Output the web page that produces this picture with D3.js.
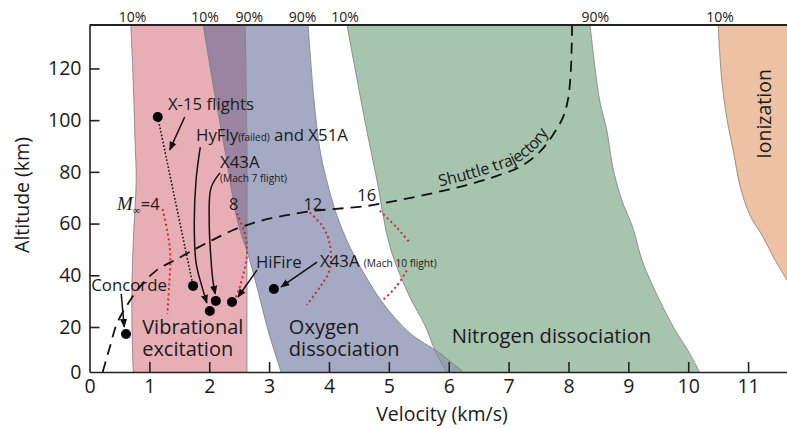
<!DOCTYPE html>
<html>
<head>
<meta charset="utf-8">
<script src="https://cdn.jsdelivr.net/npm/d3@7"></script>
<style>
body { margin: 0; background: #fff; }
text { font-family: "Open Sans", sans-serif; fill: #1a1a1a; }
</style>
</head>
<body>
<div class="chart"></div>
<script>
// band edges as [velocity km/s, altitude km]
const vibLeft  = [[0.69,136.8],[0.73,115.6],[0.76,92.3],[0.78,76.9],[0.74,57.5],[0.71,38.2],[0.71,18.7],[0.73,0]]
const vibRight = [[2.60,136.8],[2.63,88.5],[2.63,49.8],[2.63,0]]
const oxLeft   = [[1.90,136.8],[2.05,115.6],[2.26,88.5],[2.48,60.2],[2.65,47.9],[2.81,34.3],[2.98,18.7],[3.20,0]]
const oxRight  = [[3.65,136.8],[3.75,107.8],[3.85,88.5],[3.96,76.9],[4.13,63.3],[4.35,50.9],[4.60,40.1],[4.90,29.3],[5.35,17.3],[5.85,8.4],[6.24,0]]
const niLeft   = [[4.30,136.8],[4.47,115.6],[4.63,96.2],[4.80,76.9],[5.02,50.9],[5.35,31.6],[5.60,20.8],[5.79,8.4],[5.97,0]]
const niRight  = [[8.36,136.8],[8.52,107.8],[8.64,96.2],[8.74,81.9],[8.89,69.1],[9.07,58.7],[9.24,45.1],[9.52,30.4],[9.78,18.7],[9.99,9.8],[10.19,0]]
const ionLeft  = [[10.50,136.8],[10.56,115.6],[10.65,100.1],[10.75,88.5],[10.87,74.2],[11.03,63.3],[11.25,54.8],[11.45,45.9],[11.65,38.2],[11.87,30.4]]
const ionRight = [[12.5,136.8],[12.5,30.4]]

const shuttle = [[0.22,0],[0.34,11.1],[0.46,21.5],[0.63,28.5],[0.84,35.5],[1.13,42.1],[1.46,46.3],[1.80,50.6],[2.06,53.7],[2.40,57.5],[2.73,60.2],[3.06,62.2],[3.40,63.7],[3.73,64.9],[4.07,65.6],[4.63,66.8],[5.18,69.1],[5.74,71.8],[6.30,74.9],[6.85,78.8],[7.19,81.9],[7.52,87.7],[7.74,94.3],[7.91,101.2],[7.99,107.8],[8.04,119.4],[8.06,136.8]]

// constant free-stream Mach number lines (M=16 is broken where the label sits)
const machLines = [
  [[1.22,65.6],[1.30,57.0],[1.35,48.0],[1.33,36.0],[1.30,25.0]],
  [[2.46,63.9],[2.59,56.5],[2.63,48.3],[2.51,35.6],[2.38,28.0]],
  [[3.68,64.3],[3.88,59.3],[4.01,52.6],[4.01,42.1],[3.85,35.5],[3.63,28.5]],
  [[4.85,65.0],[5.13,58.5],[5.35,52.6]],
  [[5.30,41.8],[5.12,35.5],[4.90,30.4]]
]
const machLabels = [["8",2.41,65.3],["12",3.73,65.3],["16",4.63,68.7]]

const flights = [[1.14,101.2],[1.73,35.9],[2.01,26.2],[2.11,30.1],[2.38,29.7],[3.08,34.7],[0.61,16.9]]
const x15Path = [[1.14,101.2],[1.73,35.9]]

const arrows = [
  [[1.59,101.2],[1.34,88.5]],
  [[1.85,89.6],[1.78,76.9],[1.75,60.2],[1.78,44.8],[1.88,35.5],[1.96,29.3]],
  [[2.18,79.6],[2.03,73.8],[2.00,60.2],[2.03,45.9],[2.06,38.2],[2.10,32.8]],
  [[2.80,42.1],[2.48,31.6]],
  [[3.80,45.1],[3.20,35.5]],
  [[0.53,32.8],[0.58,20.0]]
]

const topLabels = ["10%","10%","90%","90%","10%","90%","10%"]
const topLabelV = [0.72,1.93,2.67,3.56,4.27,8.45,10.53]
const xTicks = [0,1,2,3,4,5,6,7,8,9,10,11]
const yTicks = [0,20,40,60,80,100,120]

const width = 787, height = 429

const x = d3.scaleLinear().domain([0, 11.65]).range([89.5, 787])
const y = d3.scaleLinear().domain([0, 20, 136.8]).range([372, 327, 25])

const svg = d3.select(".chart").append("svg")
  .attr("width", width).attr("height", height)

const defs = svg.append("defs")
defs.append("clipPath").attr("id", "plot")
  .append("rect")
  .attr("x", x(0)).attr("y", y(136.8))
  .attr("width", x(11.65) - x(0)).attr("height", y(0) - y(136.8))

const edge = d3.line().x(d => x(d[0])).y(d => y(d[1])).curve(d3.curveCatmullRom)

function band(left, right) {
  const r = edge(right.slice().reverse())
  return edge(left) + "L" + r.slice(1) + "Z"
}

defs.append("clipPath").attr("id", "vibClip").append("path").attr("d", band(vibLeft, vibRight))
defs.append("clipPath").attr("id", "oxClip").append("path").attr("d", band(oxLeft, oxRight))

const g = svg.append("g").attr("clip-path", "url(#plot)")

g.append("path").attr("d", band(vibLeft, vibRight)).attr("fill", "#e8aeb6")
g.append("path").attr("d", band(oxLeft, oxRight)).attr("fill", "#a4a9c4")
g.append("g").attr("clip-path", "url(#vibClip)")
  .append("path").attr("d", band(oxLeft, oxRight)).attr("fill", "#9b84a0")
g.append("path").attr("d", band(niLeft, niRight)).attr("fill", "#a7c4ae")
g.append("g").attr("clip-path", "url(#oxClip)")
  .append("path").attr("d", band(niLeft, niRight)).attr("fill", "#8fa4ab")
g.append("path").attr("d", band(ionLeft, ionRight)).attr("fill", "#ecc1a4")

// band outlines
g.selectAll(".edge")
  .data([vibLeft, vibRight, oxLeft, oxRight, niLeft, niRight, ionLeft])
  .join("path")
  .attr("class", "edge")
  .attr("d", edge)
  .attr("fill", "none")
  .attr("stroke", "#7d7d7d")
  .attr("stroke-width", 0.8)

// Mach number lines
g.selectAll(".mach")
  .data(machLines)
  .join("path")
  .attr("class", "mach")
  .attr("d", edge)
  .attr("fill", "none")
  .attr("stroke", "#d0282c")
  .attr("stroke-width", 2)
  .attr("stroke-dasharray", "2,3")

// shuttle trajectory
g.append("path")
  .attr("d", edge(shuttle))
  .attr("fill", "none")
  .attr("stroke", "#111")
  .attr("stroke-width", 1.8)
  .attr("stroke-dasharray", "11,7")

defs.append("path").attr("id", "shuttleText").attr("d", edge(shuttle.slice(17)))

svg.append("text")
  .attr("font-size", 16)
  .attr("dy", -5)
  .append("textPath")
  .attr("href", "#shuttleText")
  .attr("startOffset", 8)
  .text("Shuttle trajectory")

// X-15 dotted path
g.append("path")
  .attr("d", d3.line().x(d => x(d[0])).y(d => y(d[1]))(x15Path))
  .attr("fill", "none")
  .attr("stroke", "#111")
  .attr("stroke-width", 1.6)
  .attr("stroke-dasharray", "1.6,2")

// arrows
defs.append("marker").attr("id", "arr")
  .attr("viewBox", "0 0 10 10")
  .attr("refX", 9).attr("refY", 5)
  .attr("markerWidth", 9).attr("markerHeight", 9)
  .attr("markerUnits", "userSpaceOnUse")
  .attr("orient", "auto")
  .append("path").attr("d", "M0,1L10,5L0,9Z").attr("fill", "#111")

g.selectAll(".arrow")
  .data(arrows)
  .join("path")
  .attr("class", "arrow")
  .attr("d", edge)
  .attr("fill", "none")
  .attr("stroke", "#111")
  .attr("stroke-width", 1.5)
  .attr("marker-end", "url(#arr)")

// flight points
g.selectAll(".pt")
  .data(flights)
  .join("circle")
  .attr("class", "pt")
  .attr("cx", d => x(d[0]))
  .attr("cy", d => y(d[1]))
  .attr("r", 5)
  .attr("fill", "#000")

// labels
function label(txt, v, a, size, anchor) {
  return svg.append("text")
    .attr("x", x(v)).attr("y", y(a))
    .attr("font-size", size)
    .attr("text-anchor", anchor || "start")
    .text(txt)
}

label("X-15 flights", 1.31, 103.9, 16.8)
const hy = label("", 1.78, 91.9, 16.8)
hy.append("tspan").text("HyFly")
hy.append("tspan").attr("font-size", 10).text("(failed)")
hy.append("tspan").text(" and X51A")
label("X43A", 2.18, 81.5, 16.8)
label("(Mach 7 flight)", 2.18, 76.1, 10.2)
label("HiFire", 2.78, 42.8, 16.8)
const x43 = label("", 3.85, 43.2, 16.8)
x43.append("tspan").text("X43A ")
x43.append("tspan").attr("font-size", 10.2).text("(Mach 10 flight)")
label("Concorde", 0.03, 33.9, 16.8)

label("Vibrational", 0.88, 17.1, 20)
label("excitation", 0.88, 6.9, 20)
label("Oxygen", 3.33, 17.1, 20)
label("dissociation", 3.33, 6.9, 20)
label("Nitrogen dissociation", 6.05, 12.9, 20.2)
svg.append("text")
  .attr("transform", `translate(${x(11.38)},${y(102.4)}) rotate(-90)`)
  .attr("text-anchor", "middle")
  .attr("font-size", 19.5)
  .text("Ionization")

const m4 = label("", 0.46, 65.3, 16.5)
m4.append("tspan").attr("font-family", "Liberation Serif").attr("font-style", "italic").attr("font-size", 19).text("M")
m4.append("tspan").attr("font-family", "Liberation Serif").attr("font-size", 11).attr("dy", 4).text("\u221e")
m4.append("tspan").attr("dy", -4).text("=4")
machLabels.forEach(d => label(d[0], d[1], d[2], 16.5, "middle"))

svg.selectAll(".top")
  .data(topLabels)
  .join("text")
  .attr("class", "top")
  .attr("x", (d, i) => x(topLabelV[i]))
  .attr("y", 22)
  .attr("text-anchor", "middle")
  .attr("font-size", 14)
  .text(d => d)

// axes
const xAxis = d3.axisBottom(x).tickValues(xTicks).tickSizeInner(-10).tickSizeOuter(0).tickPadding(7)
const yAxis = d3.axisLeft(y).tickValues(yTicks).tickSizeInner(-10).tickSizeOuter(0).tickPadding(8)

const gx = svg.append("g").attr("transform", `translate(0,${y(0)})`).call(xAxis)
const gy = svg.append("g").attr("transform", `translate(${x(0)},0)`).call(yAxis)
;[gx, gy].forEach(a => {
  a.selectAll("path, line").attr("stroke", "#222").attr("stroke-width", 1.6)
  a.selectAll("text").attr("font-size", 19.5).attr("font-family", "Open Sans").attr("fill", "#1a1a1a")
})
gx.selectAll(".tick").filter(d => d === 0).select("line").remove()
gy.selectAll(".tick").filter(d => d === 0).select("line").remove()

svg.append("line")
  .attr("x1", x(0)).attr("x2", x(11.65))
  .attr("y1", y(136.8)).attr("y2", y(136.8))
  .attr("stroke", "#222").attr("stroke-width", 2)

svg.append("text")
  .attr("x", 442).attr("y", 421)
  .attr("text-anchor", "middle")
  .attr("font-size", 19.5)
  .text("Velocity (km/s)")

svg.append("text")
  .attr("transform", "translate(29,195) rotate(-90)")
  .attr("text-anchor", "middle")
  .attr("font-size", 19.5)
  .text("Altitude (km)")
</script>
</body>
</html>
